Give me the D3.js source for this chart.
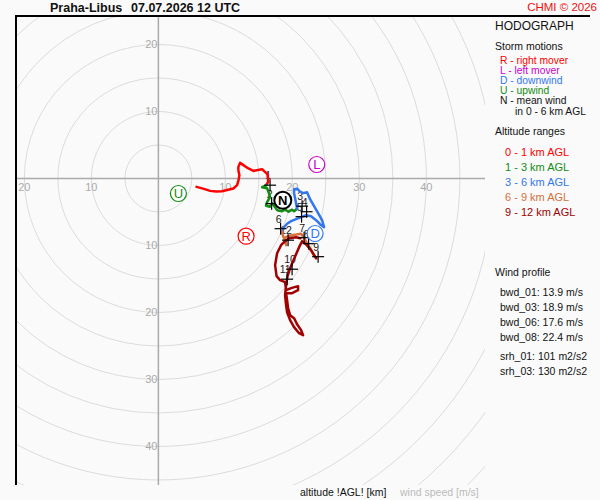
<!DOCTYPE html>
<html>
<head>
<meta charset="utf-8">
<script src="https://cdn.jsdelivr.net/npm/d3@7"></script>
<style>
  body { margin: 0; background: #fafafa; }
  svg { display: block; font-family: "Liberation Sans", Arial, sans-serif; }
</style>
</head>
<body>
<div class="hodograph"></div>
<script>
// hodograph data, [u, v] in m/s
const layer0to1 = [[5.70,-1.25],[6.67,-1.52],[7.72,-1.85],[8.61,-1.94],[9.51,-1.90],[10.40,-1.67],[11.19,-1.49],[11.75,-1.00],[11.97,-0.25],[12.09,0.49],[11.94,1.24],[11.94,1.73],[12.19,2.33],[12.69,1.99],[13.43,1.49],[14.18,1.13],[14.88,1.27],[15.48,1.39],[15.78,1.09],[16.27,0.64],[16.37,0.04],[16.37,-0.55],[16.15,-0.85]];
const layer1to3 = [[16.15,-1.00],[15.48,-1.30],[16.22,-1.45],[16.45,-2.04],[16.67,-2.79],[16.22,-3.54],[16.07,-4.06],[16.67,-4.21],[16.97,-3.69],[17.42,-4.28],[17.72,-4.73],[18.46,-4.88],[18.91,-4.66],[19.43,-4.96],[19.96,-4.66],[20.25,-4.88],[20.70,-4.51]];
const layer3to6 = [[20.70,-4.51],[20.55,-3.69],[20.40,-2.93],[20.25,-2.19],[20.25,-1.60],[20.70,-1.52],[21.15,-1.97],[21.60,-2.19],[22.19,-2.04],[22.64,-3.09],[23.24,-4.13],[23.84,-5.18],[24.43,-6.22],[24.73,-7.27],[24.13,-6.82],[23.54,-6.22],[22.79,-5.63],[22.04,-5.48],[21.30,-5.78],[20.55,-6.07],[19.81,-6.37],[19.21,-6.75],[18.76,-7.27],[18.46,-7.87]];
const layer6to9 = [[18.46,-7.87],[18.61,-8.61],[18.99,-9.36],[19.07,-9.96],[18.76,-8.91],[19.51,-8.54],[20.40,-8.39],[21.30,-8.24],[21.75,-8.91],[22.19,-9.66],[22.64,-10.40],[23.09,-11.30],[23.54,-11.90]];
const layer9to12 = [[23.54,-11.90],[22.79,-10.70],[22.04,-9.81],[21.45,-9.36],[21.00,-10.25],[20.55,-11.30],[20.10,-12.34],[19.66,-13.39],[19.28,-14.58],[19.06,-15.93],[18.91,-17.42],[19.06,-18.91],[19.21,-19.96],[19.66,-21.15],[20.25,-22.19],[21.00,-23.09],[21.60,-23.39],[21.30,-22.64],[20.70,-21.75],[20.25,-20.85],[19.66,-20.40],[19.36,-19.36],[19.21,-18.16],[19.06,-17.12],[19.96,-17.12],[20.85,-16.67],[20.85,-16.07],[19.81,-16.37],[19.06,-16.67],[18.91,-15.48],[18.16,-15.18],[17.64,-14.58],[17.42,-12.94],[17.72,-11.15],[18.31,-9.96],[18.91,-9.36],[19.51,-8.91],[20.55,-8.76],[21.19,-8.91]];

const layerColors = ['#ff0000', '#148c14', '#3377ee', '#d8703c', '#a00000'];
const layerNames = ['0 - 1 km AGL', '1 - 3 km AGL', '3 - 6 km AGL', '6 - 9 km AGL', '9 - 12 km AGL'];

// altitude markers every km
const kmLabels = ['1','2','3','4','5','6','7','8','9','10','11','12'];
const kmU = [16.67,16.90,21.45,22.12,21.37,18.24,21.75,22.42,23.84,19.96,19.21,19.36];
const kmV = [-1.00,-3.76,-4.13,-4.96,-5.70,-7.49,-8.84,-9.73,-11.67,-13.54,-15.03,-9.21];

// storm motions
const stormLetters = ['R','L','D','U','N'];
const stormU = [13.09,23.64,23.39,2.99,18.57];
const stormV = [-8.61,2.09,-8.21,-2.24,-3.24];
const stormColors = ['#ff0000','#cc00cc','#3377ee','#148c14','#000000'];
const stormNames = ['R - right mover','L - left mover','D - downwind','U - upwind','N - mean wind'];

const xTicks = [-20,-10,10,20,30,40];
const yTicks = [20,10,-10,-20,-30,-40];
const rings = d3.range(5, 75, 5);

const windProfile = ['bwd_01: 13.9 m/s','bwd_03: 18.9 m/s','bwd_06: 17.6 m/s','bwd_08: 22.4 m/s','srh_01: 101 m2/s2','srh_03: 130 m2/s2'];

const width = 600;
const height = 500;

const svg = d3.select('.hodograph')
  .append('svg')
  .attr('width', width)
  .attr('height', height);

svg.append('rect').attr('width', width).attr('height', height).attr('fill', '#fafafa');

// plot box 15..485
const xScale = d3.scaleLinear().domain([-21.4, 48.75]).range([15, 485]);
const yScale = d3.scaleLinear().domain([24.4, -45.75]).range([15, 485]);
const x0 = xScale(0), y0 = yScale(0);
const k = xScale(1) - xScale(0);

svg.append('clipPath').attr('id', 'plotclip')
  .append('rect').attr('x', 15).attr('y', 15).attr('width', 470).attr('height', 470);

const plot = svg.append('g').attr('clip-path', 'url(#plotclip)');

plot.selectAll('.ring')
  .data(rings)
  .enter()
  .append('circle')
  .attr('cx', x0).attr('cy', y0)
  .attr('r', d => d * k)
  .attr('fill', 'none')
  .attr('stroke', '#dcdcdc')
  .attr('stroke-width', 1);

plot.append('line').attr('x1', 15).attr('x2', 485).attr('y1', y0).attr('y2', y0)
  .attr('stroke', '#aaa').attr('stroke-width', 1.5);
plot.append('line').attr('x1', x0).attr('x2', x0).attr('y1', 15).attr('y2', 485)
  .attr('stroke', '#aaa').attr('stroke-width', 1.5);

// tick labels
plot.selectAll('.xt')
  .data(xTicks)
  .enter()
  .append('text')
  .attr('x', d => xScale(d))
  .attr('y', y0 + 13)
  .attr('text-anchor', 'middle')
  .attr('font-size', 11)
  .attr('fill', '#aaa')
  .text(d => Math.abs(d));

plot.selectAll('.yt')
  .data(yTicks)
  .enter()
  .append('text')
  .attr('x', x0 - 1)
  .attr('y', d => yScale(d) + 4)
  .attr('text-anchor', 'end')
  .attr('font-size', 11)
  .attr('fill', '#aaa')
  .text(d => Math.abs(d));

// km labels
plot.selectAll('.kmlab')
  .data(kmLabels)
  .enter()
  .append('text')
  .attr('x', (d, i) => xScale(kmU[i]) - 2)
  .attr('y', (d, i) => yScale(kmV[i]) - 6)
  .attr('text-anchor', 'middle')
  .attr('font-size', 10.5)
  .attr('fill', '#222')
  .text(d => d);

// hodograph layers
const line = d3.line()
  .x(d => xScale(d[0]))
  .y(d => yScale(d[1]));

const layers = [layer0to1, layer1to3, layer3to6, layer6to9, layer9to12];
plot.selectAll('.layer')
  .data(layers)
  .enter()
  .append('path')
  .attr('d', line)
  .attr('fill', 'none')
  .attr('stroke', (d, i) => layerColors[i])
  .attr('stroke-width', 2.5)
  .attr('stroke-linejoin', 'round')
  .attr('stroke-linecap', 'round');

// km crosses
const crosses = plot.selectAll('.cross')
  .data(kmLabels)
  .enter()
  .append('g')
  .attr('transform', (d, i) => `translate(${xScale(kmU[i])},${yScale(kmV[i])})`);
crosses.append('line').attr('x1', -6).attr('x2', 6).attr('y1', 0).attr('y2', 0)
  .attr('stroke', '#000').attr('stroke-width', 1.2);
crosses.append('line').attr('x1', 0).attr('x2', 0).attr('y1', -6).attr('y2', 6)
  .attr('stroke', '#000').attr('stroke-width', 1.2);

// storm motion markers
const storms = plot.selectAll('.storm')
  .data(stormLetters)
  .enter()
  .append('g')
  .attr('transform', (d, i) => `translate(${xScale(stormU[i])},${yScale(stormV[i])})`);
storms.append('circle')
  .attr('r', d => d === 'N' ? 8.5 : 8)
  .attr('fill', '#fff')
  .attr('stroke', (d, i) => stormColors[i])
  .attr('stroke-width', d => d === 'N' ? 2 : 1.2);
storms.append('text')
  .attr('y', 5)
  .attr('text-anchor', 'middle')
  .attr('font-size', 13)
  .attr('font-weight', d => d === 'N' ? 'bold' : 'normal')
  .attr('fill', (d, i) => stormColors[i])
  .text(d => d);

// frame (left and top only)
svg.append('line').attr('x1', 16).attr('x2', 16).attr('y1', 15).attr('y2', 485)
  .attr('stroke', '#000').attr('stroke-width', 2);
svg.append('line').attr('x1', 15).attr('x2', 590).attr('y1', 16).attr('y2', 16)
  .attr('stroke', '#000').attr('stroke-width', 2);

// header
svg.append('text').attr('x', 50).attr('y', 12).attr('font-size', 12.5).attr('font-weight', 'bold')
  .attr('fill', '#111').text('Praha-Libus');
svg.append('text').attr('x', 131).attr('y', 12).attr('font-size', 12.5).attr('font-weight', 'bold')
  .attr('fill', '#111').text('07.07.2026 12 UTC');
svg.append('text').attr('x', 597).attr('y', 11).attr('text-anchor', 'end').attr('font-size', 11.5)
  .attr('fill', '#ee1111').text('CHMI © 2026');

// legend
const legend = svg.append('g').attr('font-size', 10.5);
legend.append('text').attr('x', 495).attr('y', 30).attr('font-size', 12).attr('fill', '#111').text('HODOGRAPH');
legend.append('text').attr('x', 495).attr('y', 50).attr('fill', '#111').text('Storm motions');
legend.selectAll('.sm')
  .data(stormNames)
  .enter()
  .append('text')
  .attr('x', 500)
  .attr('y', (d, i) => 64 + i * 10)
  .attr('font-size', 10.3)
  .attr('fill', (d, i) => stormColors[i] === '#000000' ? '#111' : stormColors[i])
  .text(d => d);
legend.append('text').attr('x', 515).attr('y', 115).attr('font-size', 10.3).attr('fill', '#111').text('in 0 - 6 km AGL');
legend.append('text').attr('x', 495).attr('y', 135).attr('fill', '#111').text('Altitude ranges');
legend.selectAll('.ar')
  .data(layerNames)
  .enter()
  .append('text')
  .attr('x', 505)
  .attr('y', (d, i) => 156 + i * 15)
  .attr('font-size', 11)
  .attr('fill', (d, i) => layerColors[i])
  .text(d => d);

legend.append('text').attr('x', 495).attr('y', 276).attr('fill', '#111').text('Wind profile');
legend.selectAll('.wp')
  .data(windProfile)
  .enter()
  .append('text')
  .attr('x', 500)
  .attr('y', (d, i) => 296 + i * 15 + (i >= 4 ? 4 : 0))
  .attr('fill', '#111')
  .text(d => d);

// bottom captions
svg.append('text').attr('x', 300).attr('y', 496).attr('font-size', 10.5).attr('fill', '#111').text('altitude !AGL! [km]');
svg.append('text').attr('x', 400).attr('y', 496).attr('font-size', 10.5).attr('fill', '#bbb').text('wind speed [m/s]');
</script>
</body>
</html>
